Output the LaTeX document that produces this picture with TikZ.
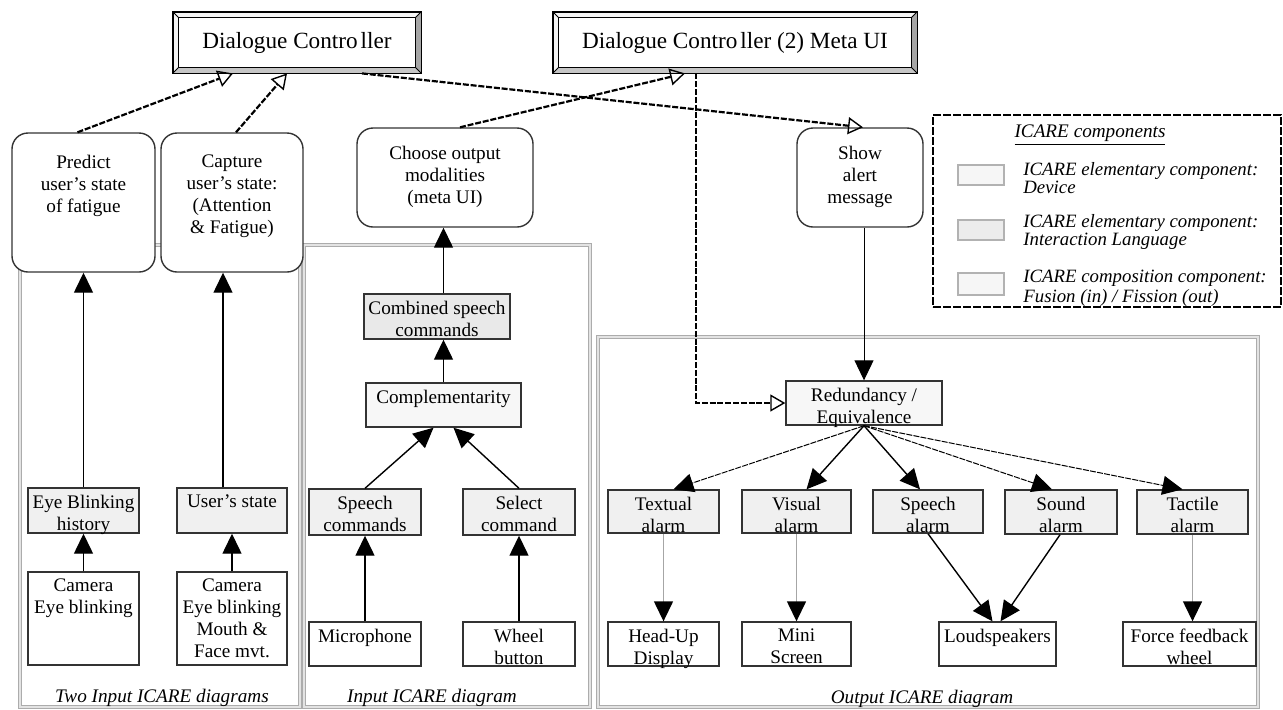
\documentclass[tikz,border=0pt]{standalone}
\usepackage{fontspec}
\setmainfont{Liberation Serif}
\usetikzlibrary{arrows.meta,fit,calc}
\newcommand\bx[8]{\node[#6, fit={(#2,#3) (#4,#5)}, label={[#7]north:{#8}}] (#1) {};}
\newcommand\bevelize[1]{%
  \fill[gray!8] (#1.north west) -- (#1.north east) -- ($(#1.north east)+(-6,6)$) -- ($(#1.north west)+(6,6)$) -- cycle;
  \fill[gray!8] (#1.north west) -- (#1.south west) -- ($(#1.south west)+(6,-6)$) -- ($(#1.north west)+(6,6)$) -- cycle;
  \fill[gray!70] (#1.north east) -- (#1.south east) -- ($(#1.south east)+(-6,-6)$) -- ($(#1.north east)+(-6,6)$) -- cycle;
  \fill[gray!45] (#1.south west) -- (#1.south east) -- ($(#1.south east)+(-6,-6)$) -- ($(#1.south west)+(6,-6)$) -- cycle;
  \draw[line width=0.5pt] ($(#1.north west)+(6,6)$) rectangle ($(#1.south east)+(-6,-6)$);
  \draw[line width=0.4pt] (#1.north west) -- ($(#1.north west)+(6,6)$) (#1.north east) -- ($(#1.north east)+(-6,6)$)
     (#1.south west) -- ($(#1.south west)+(6,-6)$) (#1.south east) -- ($(#1.south east)+(-6,-6)$);
  \draw[line width=0.9pt] (#1.north west) rectangle (#1.south east);}
\begin{document}
\begin{tikzpicture}[x=0.5pt,y=-0.5pt,
  font=\fontsize{9.6pt}{11pt}\selectfont,
  frame/.style={draw=gray!65, line width=0.55pt, double=gray!22, double distance=0.6pt},
  box/.style={draw=black!80, line width=0.7pt, inner sep=0pt},
  dev/.style={box, fill=white},
  lang/.style={box, fill=gray!12},
  lang2/.style={box, fill=gray!17},
  comp/.style={box, fill=gray!6},
  rbox/.style={draw=black!80, line width=0.7pt, fill=white, rounded corners=8pt, inner sep=0pt},
  bev/.style={inner sep=0pt, font=\fontsize{11.6pt}{13pt}\selectfont},
  lab/.style={anchor=north, align=center, inner sep=0pt, yshift=-3.5pt},
  rlab/.style={anchor=north, align=center, inner sep=0pt, yshift=-11pt},
  arr/.style={-{Triangle[length=10pt,width=9.5pt,color=black]}, line width=0.7pt},
  garr/.style={arr, draw=gray!70},
  thinarr/.style={arr, line width=0.5pt},
  fdash/.style={arr, line width=0.5pt, dash pattern=on 3pt off 0.6pt},
  ctl/.style={line width=1.1pt, dash pattern=on 3pt off 0.9pt,
     -{Triangle[open,length=7.5pt,width=8.5pt,line width=0.7pt]}},
  captxt/.style={font=\itshape\fontsize{9.6pt}{11pt}\selectfont, inner sep=0pt},
  legtxt/.style={font=\itshape\fontsize{9.4pt}{7.5pt}\selectfont, align=left, anchor=west, inner sep=0pt}
]
\useasboundingbox (0,0) rectangle (1283,709);

% group frames
\draw[frame] (20,245) rectangle (300,707);
\draw[frame] (304,245) rectangle (590,707);
\draw[frame] (598,337) rectangle (1258,707);

% dialogue controllers
\node[bev, fit={(173,12) (421,73)}] (dc1) {};
\bevelize{dc1}
\node[bev] at (dc1) {Dialogue Contro\kern1.5pt ller};
\node[bev, fit={(553,12) (917,73)}] (dc2) {};
\bevelize{dc2}
\node[bev] at (dc2) {Dialogue Contro\kern1.5pt ller (2) Meta UI};

% rounded task boxes
\bx{pred}{12}{133}{155}{272}{rbox}{rlab}{Predict\\user’s state\\of fatigue}
\bx{capt}{161}{133}{303}{272}{rbox}{rlab}{Capture\\user’s state:\\(Attention\\\& Fatigue)}
\bx{choose}{357}{128}{533}{227}{rbox}{rlab,yshift=2pt}{Choose output\\modalities\\(meta UI)}
\bx{show}{797}{128}{923}{227}{rbox}{rlab,yshift=2pt}{Show\\alert\\message}

% left group
\bx{ebh}{28}{488}{139}{533}{lang}{lab}{Eye Blinking\\history}
\bx{us}{177}{488}{287}{533}{lang}{lab}{User’s state}
\bx{cam1}{28}{572}{139}{665}{dev}{lab}{Camera\\Eye blinking}
\bx{cam2}{177}{572}{287}{665}{dev}{lab}{Camera\\Eye blinking\\Mouth \&\\Face mvt.}
\node[captxt] (c1) at (162,698) {Two Input ICARE diagrams};

% middle group
\bx{comb}{364}{294}{510}{339}{lang2}{lab}{Combined speech\\commands}
\bx{cmp}{366}{383}{521}{427}{comp}{lab}{Complementarity}
\bx{sp}{309}{489}{421}{535}{lang}{lab}{Speech\\commands}
\bx{sel}{463}{489}{575}{535}{lang}{lab}{Select\\command}
\bx{mic}{309}{622}{421}{666}{dev}{lab}{Microphone}
\bx{wheel}{463}{622}{575}{666}{dev}{lab}{Wheel\\button}
\node[captxt] (c2) at (432,698) {Input ICARE diagram};

% right group
\bx{red}{786}{381}{942}{425}{comp}{lab}{Redundancy /\\Equivalence}
\bx{txt}{608}{490}{719}{533}{lang}{lab}{Textual\\alarm}
\bx{vis}{742}{490}{851}{533}{lang}{lab}{Visual\\alarm}
\bx{spa}{873}{490}{983}{533}{lang}{lab}{Speech\\alarm}
\bx{snd}{1005}{490}{1117}{534}{lang}{lab}{Sound\\alarm}
\bx{tac}{1137}{490}{1248}{534}{lang}{lab}{Tactile\\alarm}
\bx{hud}{608}{622}{719}{666}{dev}{lab}{Head-Up\\Display}
\bx{mini}{742}{622}{851}{666}{dev}{lab}{Mini\\Screen}
\bx{loud}{939}{622}{1056}{666}{dev}{lab}{Loudspeakers}
\bx{ffw}{1123}{622}{1256}{666}{dev}{lab}{Force feedback\\wheel}
\node[captxt] (c3) at (922,699) {Output ICARE diagram};

% legend
\node[draw, line width=1pt, dash pattern=on 4pt off 1pt, fit={(933,115) (1281,307)}, inner sep=0pt] (leg) {};
\node[captxt] (legt) at (1090,135) {\underline{ICARE components}};
\node[draw=gray!60, line width=0.6pt, fill=gray!7, fit={(958,165) (1004,185)}, inner sep=0pt] (l1) {};
\node[draw=gray!60, line width=0.6pt, fill=gray!15, fit={(958,220) (1004,240)}, inner sep=0pt] (l2) {};
\node[draw=gray!60, line width=0.6pt, fill=gray!7, fit={(958,273) (1004,295)}, inner sep=0pt] (l3) {};
\node[legtxt] (lt1) at (1023,178) {ICARE elementary component:\\Device};
\node[legtxt] (lt2) at (1023,232) {ICARE elementary component:\\Interaction Language};
\node[legtxt, font=\itshape\fontsize{9.4pt}{10pt}\selectfont] (lt3) at (1023,288) {ICARE composition component:\\Fusion (in) / Fission (out)};

% left arrows
\draw[arr] (cam1) -- (ebh);
\draw[arr] (ebh) -- (pred);
\draw[arr] (cam2) -- (us);
\draw[arr] ($(us.north)+(-9,0)$) -- ($(capt.south)+(-9,0)$);

% middle arrows
\draw[arr] (mic) -- (sp);
\draw[arr] (wheel) -- (sel);
\draw[arr] (sp.north) -- ($(cmp.south)+(-10,0)$);
\draw[arr] (sel.north) -- ($(cmp.south)+(10,0)$);
\draw[arr] (cmp.north) -- (cmp.north |- comb.south);
\draw[arr] (cmp.north |- comb.north) -- (cmp.north |- choose.south);

% right arrows
\draw[thinarr] (red.north |- show.south) -- (red.north);
\draw[fdash] (red.south) -- ($(txt.north)+(10,0)$);
\draw[arr] (red.south) -- ($(vis.north)+(10,0)$);
\draw[arr] (red.south) -- ($(spa.north)+(-8,0)$);
\draw[fdash] (red.south) -- ($(snd.north)+(-9,0)$);
\draw[fdash] (red.south) -- ($(tac.north)+(-10,0)$);
\draw[garr] (txt) -- (hud);
\draw[garr] (vis) -- (mini);
\draw[arr] (spa.south) -- ($(loud.north)+(-5,0)$);
\draw[arr] ($(snd.south)+(-1,0)$) -- ($(loud.north)+(3,0)$);
\draw[garr] (tac.south) -- (tac.south |- ffw.north);

% dialogue controller links
\draw[ctl] ($(pred.north)+(-6,0)$) -- ($(dc1.south)+(-64,0)$);
\draw[ctl] ($(capt.north)+(4,0)$) -- ($(dc1.south)+(-10,0)$);
\draw[ctl] ($(choose.north)+(15,0)$) -- ($(dc2.south)+(-50,0)$);
\draw[ctl] ($(dc1.south)+(65,0)$) -- ($(show.north)+(3,0)$);
\draw[ctl] ($(dc2.south)+(-39,0)$) |- (red.west);
\end{tikzpicture}
\end{document}
